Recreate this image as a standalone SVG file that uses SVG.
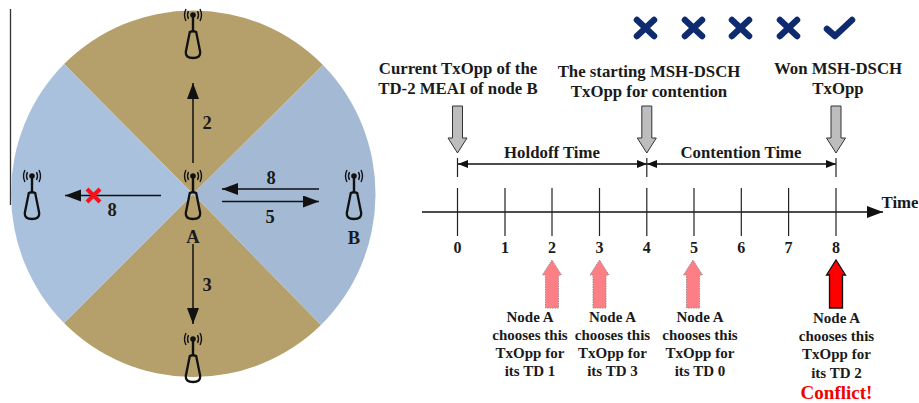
<svg xmlns="http://www.w3.org/2000/svg" xmlns:xlink="http://www.w3.org/1999/xlink" width="919" height="403" viewBox="0 0 919 403">
<style>
text{font-family:"Liberation Serif","Times New Roman",serif;font-weight:bold;fill:#1a1a1a;text-anchor:middle}
.t15{font-size:15px}
.t16{font-size:16.800px}
.t18{font-size:18.500px}
.num{font-size:16px}
.ln{stroke:#111;stroke-width:1.5;fill:none}
.tick{stroke:#222;stroke-width:1.2;fill:none}
.ant{fill:none;stroke:#111}
.grey{fill:#bdbdbd;stroke:#333;stroke-width:1}
.pink{fill:#fd7f86;stroke:#a88;stroke-width:1;stroke-dasharray:1.5 1}
.x{stroke:#0d2b6e;stroke-width:6.5;stroke-linecap:round;stroke-linejoin:round;fill:none}
</style>
<defs>
<marker id="ah" markerUnits="userSpaceOnUse" markerWidth="17" markerHeight="13" refX="16" refY="6" orient="auto"><path d="M0 0L16 6L0 12Z" fill="#111"/></marker>
<marker id="ahs" markerUnits="userSpaceOnUse" markerWidth="11" markerHeight="9" refX="10" refY="4" orient="auto-start-reverse"><path d="M0 0L10 4L0 8Z" fill="#111"/></marker>
<g id="antenna">
<path d="M0 0V16" class="ant" stroke-width="2.400"/>
<circle cx="0" cy="0" r="2.800" fill="#111"/>
<path d="M-4.500-4Q-6.500 0-4.500 4M4.500-4Q6.500 0 4.500 4M-7-6Q-10 0-7 6M7-6Q10 0 7 6" class="ant" stroke-width="1.400"/>
<path d="M-3.200 17Q0 15.500 3.200 17L7.200 37Q7.700 43 0 43Q-7.700 43-7.200 37Z" class="ant" stroke-width="2.300"/>
</g>
<path id="grey" class="grey" d="M-5 0H5V32H9.500L0 47L-9.500 32H-5Z"/>
<path id="pink" class="pink" d="M-6.500 48V15H-9.500L0 0L9.500 15H6.500V48Z"/>
</defs>
<path id="frame-line" d="M10.500 9V205" stroke="#333" stroke-width="1.300" fill="none"/>
<g id="disc">
<path d="M193 194L64 64A183 184 0 0 1 323 65Z" fill="#b5a06c"/>
<path d="M193 194L64 323A183 184 0 0 0 321 325Z" fill="#b5a06c"/>
<path d="M193 194L64 64A183 184 0 0 0 64 323Z" fill="#a9c1dc"/>
<path d="M193 194L323 65A183 184 0 0 1 321 325Z" fill="#a3b9d4"/>
</g>
<g id="connectors">
<path class="ln" d="M193 163V83" marker-end="url(#ah)"/>
<path class="ln" d="M193 244V324" marker-end="url(#ah)"/>
<path class="ln" d="M161 195.500H65" marker-end="url(#ah)"/>
<path class="ln" d="M319 189H222" marker-end="url(#ah)"/>
<path class="ln" d="M222 201.500H319" marker-end="url(#ah)"/>
<path d="M87 189L100 202M100 189L87 202" stroke="#f0141e" stroke-width="4.200" fill="none"/>
<path class="ln" d="M458 164H647" marker-start="url(#ahs)" marker-end="url(#ahs)"/>
<path class="ln" d="M647 164H836" marker-start="url(#ahs)" marker-end="url(#ahs)"/>
<path class="tick" d="M457.500 158V177M646.800 158V177M836 158V177"/>
<path class="ln" d="M422 212H883" marker-end="url(#ah)"/>
<path class="tick" d="M457.500 188V236M505 188V236M552 188V236M599.500 188V236M646.800 188V236M694 188V236M741.300 188V236M788.600 188V236M836 188V236"/>
</g>
<g id="node-top"><use xlink:href="#antenna" href="#antenna" transform="translate(193 15)"/></g>
<g id="node-left"><use xlink:href="#antenna" href="#antenna" transform="translate(32 176)"/></g>
<g id="node-a"><use xlink:href="#antenna" href="#antenna" transform="translate(193 176)"/><text class="t18" x="193" y="243">A</text></g>
<g id="node-b"><use xlink:href="#antenna" href="#antenna" transform="translate(354 176)"/><text class="t18" x="354" y="244">B</text></g>
<g id="node-bottom"><use xlink:href="#antenna" href="#antenna" transform="translate(193 339)"/></g>
<g id="link-labels">
<text class="t18" x="207" y="129">2</text>
<text class="t18" x="207" y="291">3</text>
<text class="t18" x="112" y="216">8</text>
<text class="t18" x="271" y="184">8</text>
<text class="t18" x="270" y="223">5</text>
</g>
<g id="marks">
<path class="x" d="M637 20L654 36M654 20L637 36"/>
<path class="x" d="M685 20L702 36M702 20L685 36"/>
<path class="x" d="M732 20L749 36M749 20L732 36"/>
<path class="x" d="M780 20L797 36M797 20L780 36"/>
<path class="x" d="M827 29L835 36L852 20"/>
</g>
<g id="label-current"><text class="t16" x="458" y="74">Current TxOpp of the</text><text class="t16" x="458" y="94">TD-2 MEAI of node B</text><use xlink:href="#grey" href="#grey" transform="translate(457.500 106)"/></g>
<g id="label-start"><text class="t16" x="649" y="77">The starting MSH-DSCH</text><text class="t16" x="649" y="97">TxOpp for contention</text><use xlink:href="#grey" href="#grey" transform="translate(646.800 106)"/></g>
<g id="label-won"><text class="t16" x="838" y="74">Won MSH-DSCH</text><text class="t16" x="838" y="94">TxOpp</text><use xlink:href="#grey" href="#grey" transform="translate(836 106)"/></g>
<g id="spans">
<text class="t16" x="552" y="158">Holdoff Time</text>
<text class="t16" x="741" y="158">Contention Time</text>
<text class="t16" x="900" y="208">Time</text>
</g>
<g id="axis-numbers">
<text class="num" x="457.500" y="253">0</text><text class="num" x="505" y="253">1</text><text class="num" x="552" y="253">2</text><text class="num" x="599.500" y="253">3</text><text class="num" x="646.800" y="253">4</text><text class="num" x="694" y="253">5</text><text class="num" x="741.300" y="253">6</text><text class="num" x="788.600" y="253">7</text><text class="num" x="836" y="253">8</text>
</g>
<g id="td1"><use xlink:href="#pink" href="#pink" transform="translate(552 260)"/><text class="t15" x="530" y="322">Node A</text><text class="t15" x="530" y="340">chooses this</text><text class="t15" x="530" y="358">TxOpp for</text><text class="t15" x="530" y="376">its TD 1</text></g>
<g id="td3"><use xlink:href="#pink" href="#pink" transform="translate(599.500 260)"/><text class="t15" x="612.500" y="322">Node A</text><text class="t15" x="612.500" y="340">chooses this</text><text class="t15" x="612.500" y="358">TxOpp for</text><text class="t15" x="612.500" y="376">its TD 3</text></g>
<g id="td0"><use xlink:href="#pink" href="#pink" transform="translate(693 260)"/><text class="t15" x="700" y="322">Node A</text><text class="t15" x="700" y="340">chooses this</text><text class="t15" x="700" y="358">TxOpp for</text><text class="t15" x="700" y="376">its TD 0</text></g>
<g id="td2"><path d="M829.500 308V275H826.500L836 260L845.500 275H842.500V308Z" fill="#ff0000" stroke="#111" stroke-width="1.300"/><text class="t15" x="836.500" y="323">Node A</text><text class="t15" x="836.500" y="341">chooses this</text><text class="t15" x="836.500" y="359">TxOpp for</text><text class="t15" x="836.500" y="378">its TD 2</text><text x="836.500" y="399" style="font-size:19px;fill:#f00000">Conflict!</text></g>
</svg>
